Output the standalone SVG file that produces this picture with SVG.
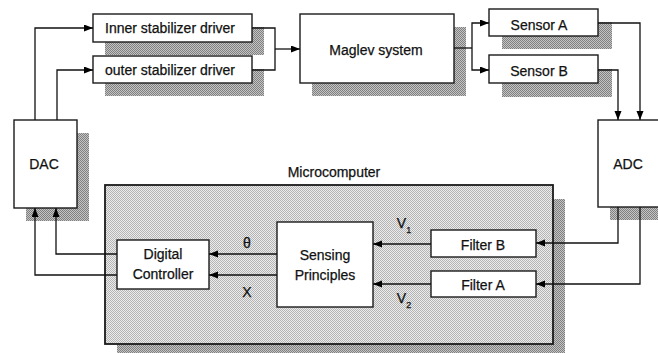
<svg xmlns="http://www.w3.org/2000/svg" width="658" height="353" viewBox="0 0 658 353">
<defs>
<marker id="ah" markerUnits="userSpaceOnUse" markerWidth="10" markerHeight="8" refX="9" refY="3.5" orient="auto">
<path d="M0,0 L9,3.5 L0,7 z" fill="#000"/>
</marker>
<pattern id="dots" width="2" height="2" patternUnits="userSpaceOnUse">
<rect width="2" height="2" fill="#c4c4c4"/>
<rect width="1" height="1" fill="#808080"/>
<rect x="1" y="1" width="1" height="1" fill="#808080"/>
</pattern>
<pattern id="lite" width="2" height="2" patternUnits="userSpaceOnUse">
<rect width="2" height="2" fill="#ececec"/>
<rect width="1" height="1" fill="#b4b4b4"/>
<rect x="1" y="1" width="1" height="1" fill="#b4b4b4"/>
</pattern>
</defs>
<style>
.box{fill:#fff;stroke:#1a1a1a;stroke-width:1.4}
.sh{fill:url(#dots);stroke:none}
.t{font-family:"Liberation Sans",Arial,sans-serif;font-size:14px;fill:#111;stroke:#111;stroke-width:0.25;text-anchor:middle}
.c{fill:none;stroke:#111;stroke-width:1.3}
.a{marker-end:url(#ah)}
</style>
<rect width="658" height="353" fill="#fff"/>

<g id="microcomputer">
<rect class="sh" x="117" y="199" width="448" height="154"/>
<rect x="105" y="185" width="448" height="159" fill="url(#lite)" stroke="#1a1a1a" stroke-width="1.8"/>
<text class="t" x="334" y="177">Microcomputer</text>
</g>

<g id="inner-driver">
<rect class="sh" x="105" y="27" width="159" height="28"/>
<rect class="box" x="93" y="14" width="159" height="28"/>
<text class="t" x="170" y="33">Inner stabilizer driver</text>
</g>
<g id="outer-driver">
<rect class="sh" x="105" y="69" width="159" height="27"/>
<rect class="box" x="93" y="56" width="159" height="27"/>
<text class="t" x="170" y="75">outer stabilizer driver</text>
</g>
<g id="maglev">
<rect class="sh" x="312" y="27" width="154" height="69"/>
<rect class="box" x="300" y="14" width="154" height="69"/>
<text class="t" x="376" y="55">Maglev system</text>
</g>
<g id="sensor-a">
<rect class="sh" x="502" y="22" width="110" height="27"/>
<rect class="box" x="489" y="9" width="109" height="27"/>
<text class="t" x="539" y="30">Sensor A</text>
</g>
<g id="sensor-b">
<rect class="sh" x="502" y="69" width="110" height="28"/>
<rect class="box" x="489" y="55" width="109" height="28"/>
<text class="t" x="539" y="76">Sensor B</text>
</g>
<g id="adc">
<rect class="sh" x="610" y="133" width="62" height="87"/>
<rect class="box" x="598" y="120" width="64" height="87"/>
<text class="t" x="628" y="169">ADC</text>
</g>
<g id="dac">
<rect class="sh" x="26" y="133" width="63" height="88"/>
<rect class="box" x="14" y="120" width="63" height="88"/>
<text class="t" x="44" y="169">DAC</text>
</g>
<g id="digital-controller">
<rect class="box" x="117" y="240" width="92" height="49"/>
<text class="t" x="163" y="259">Digital</text>
<text class="t" x="163" y="279">Controller</text>
</g>
<g id="sensing-principles">
<rect class="box" x="277" y="222" width="96" height="85"/>
<text class="t" x="325" y="260">Sensing</text>
<text class="t" x="325" y="280">Principles</text>
</g>
<g id="filter-b">
<rect class="box" x="431" y="230" width="105" height="27"/>
<text class="t" x="483" y="250">Filter B</text>
</g>
<g id="filter-a">
<rect class="box" x="431" y="271" width="105" height="26"/>
<text class="t" x="483" y="290">Filter A</text>
</g>

<g id="connectors">
<path class="c a" d="M35,120 V28 H93"/>
<path class="c a" d="M57,120 V70 H93"/>
<path class="c" d="M252,28 H275 V70 H252"/>
<path class="c a" d="M275,49 H300"/>
<path class="c" d="M454,48 H472"/>
<path class="c a" d="M472,48 V23 H489"/>
<path class="c a" d="M472,48 V70 H489"/>
<path class="c a" d="M598,23 H640 V120"/>
<path class="c a" d="M598,70 H618 V120"/>
<path class="c a" d="M618,207 V243 H536"/>
<path class="c a" d="M640,207 V284 H536"/>
<path class="c a" d="M431,244 H373"/>
<path class="c a" d="M431,284 H373"/>
<path class="c a" d="M277,254 H209"/>
<path class="c a" d="M277,275 H209"/>
<path class="c a" d="M117,254 H56 V208"/>
<path class="c a" d="M117,275 H35 V208"/>
<text class="t" x="247" y="248">θ</text>
<text class="t" x="247" y="297">X</text>
<text class="t" x="404" y="228">V<tspan font-size="9" dy="5">1</tspan></text>
<text class="t" x="404" y="303">V<tspan font-size="9" dy="5">2</tspan></text>
</g>
</svg>
